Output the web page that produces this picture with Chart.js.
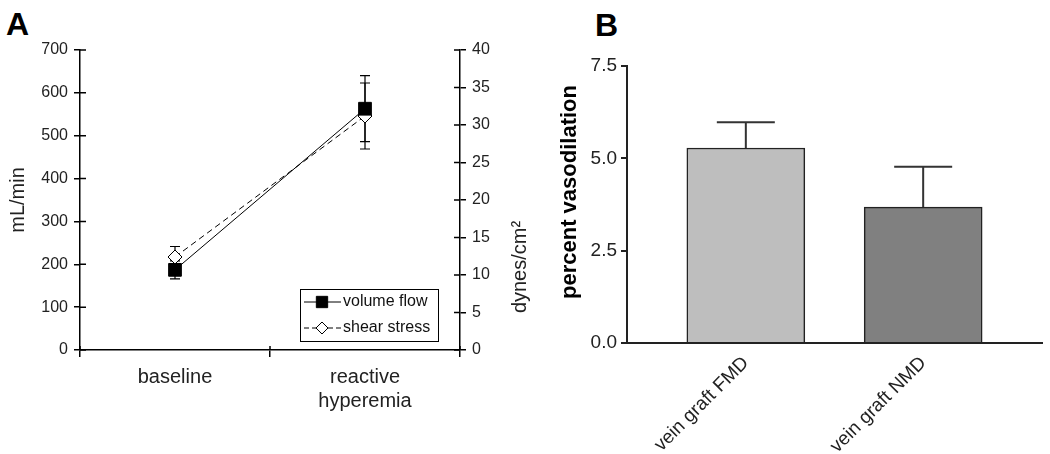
<!DOCTYPE html>
<html>
<head>
<meta charset="utf-8">
<script src="https://cdn.jsdelivr.net/npm/chart.js@4.4.0/dist/chart.umd.min.js"></script>
<style>
    html, body { margin: 0; padding: 0; background: #fff; }
    body { width: 1050px; height: 454px; position: relative; overflow: hidden; font-family: "Liberation Sans", Arial, sans-serif; }
    .panel-letter { position: absolute; font-weight: bold; font-size: 32px; line-height: 1; color: #000; }
    #wrapA { position: absolute; left: 0; top: 0; width: 545px; height: 454px; }
    #wrapB { position: absolute; left: 545px; top: 0; width: 505px; height: 454px; }
</style>
</head>
<body>
<div class="panel-letter" style="left:6px; top:8px;">A</div>
<div class="panel-letter" style="left:595px; top:9px;">B</div>
<div id="wrapA"><canvas id="chartA" width="545" height="454"></canvas></div>
<div id="wrapB"><canvas id="chartB" width="505" height="454"></canvas></div>
<script>
// ==================== DATA ====================
// Panel A - flow and shear stress
const flowCategories = ['baseline', ['reactive', 'hyperemia']];
const volumeFlow = [187, 563];          // mL/min
const volumeFlowErr = [21, 77];
const shearStress = [12.4, 31.2];       // dynes/cm2
const shearStressErr = [1.4, 4.4];
const flowAxis = { max: 700, step: 100 };
const shearAxis = { max: 40, step: 5 };

// Panel B - vasodilation
const graftCategories = ['vein graft FMD', 'vein graft NMD'];
const vasodilation = [5.28, 3.68];
const vasodilationErr = [0.70, 1.09];
const vasoAxis = { max: 7.5, step: 2.5 };
const barColors = ['#bebebe', '#808080'];

Chart.defaults.font.family = '"Liberation Sans", Arial, sans-serif';
Chart.defaults.color = '#222';
Chart.defaults.animation = false;

// ==================== HELPERS ====================
function rotatedText(ctx, text, x, y, font, color) {
    ctx.save();
    ctx.translate(x, y);
    ctx.rotate(-Math.PI / 2);
    ctx.font = font;
    ctx.fillStyle = color;
    ctx.textAlign = 'center';
    ctx.textBaseline = 'middle';
    ctx.fillText(text, 0, 0);
    ctx.restore();
}

function marker(ctx, style, radius, fill, x, y) {
    ctx.save();
    ctx.fillStyle = fill;
    ctx.strokeStyle = '#000';
    ctx.lineWidth = 1;
    Chart.helpers.drawPoint(ctx, { pointStyle: style, radius: radius, borderWidth: 1, rotation: 0 }, x, y);
    ctx.restore();
}

// error bars drawn under the markers
const flowErrorBars = {
    id: 'flowErrorBars',
    beforeDatasetsDraw(chart) {
        const ctx = chart.ctx;
        const errs = [volumeFlowErr, shearStressErr];
        ctx.save();
        ctx.strokeStyle = '#000';
        ctx.lineWidth = 1.2;
        chart.data.datasets.forEach((ds, di) => {
            const meta = chart.getDatasetMeta(di);
            const yScale = chart.scales[ds.yAxisID];
            meta.data.forEach((pt, i) => {
                const v = ds.data[i], e = errs[di][i];
                const top = yScale.getPixelForValue(v + e);
                const bot = yScale.getPixelForValue(v - e);
                ctx.beginPath();
                ctx.moveTo(pt.x, top); ctx.lineTo(pt.x, bot);
                ctx.moveTo(pt.x - 5, top); ctx.lineTo(pt.x + 5, top);
                ctx.moveTo(pt.x - 5, bot); ctx.lineTo(pt.x + 5, bot);
                ctx.stroke();
            });
        });
        ctx.restore();
    }
};

// small inward half of the crossing tick marks
const crossTicks = {
    id: 'crossTicks',
    afterDraw(chart) {
        const ctx = chart.ctx;
        const { y, y2, x } = chart.scales;
        ctx.save();
        ctx.strokeStyle = '#000';
        ctx.lineWidth = 1.5;
        ctx.beginPath();
        y.ticks.forEach(t => {
            const py = y.getPixelForValue(t.value);
            ctx.moveTo(y.right, py); ctx.lineTo(y.right + 6, py);
        });
        y2.ticks.forEach(t => {
            const py = y2.getPixelForValue(t.value);
            ctx.moveTo(y2.left, py); ctx.lineTo(y2.left - 6, py);
        });
        for (let i = 0; i <= flowCategories.length; i++) {
            const px = x.getPixelForDecimal(i / flowCategories.length);
            ctx.moveTo(px, x.top); ctx.lineTo(px, x.top - 4);
        }
        ctx.stroke();
        ctx.restore();
    }
};

const flowLegend = {
    id: 'flowLegend',
    afterDraw(chart) {
        const ctx = chart.ctx;
        const area = chart.chartArea;
        const w = 138, h = 52;
        const bx = area.right - 22 - w, by = area.bottom - 9 - h;
        ctx.save();
        ctx.strokeStyle = '#000';
        ctx.lineWidth = 1;
        ctx.strokeRect(bx + 0.5, by + 0.5, w, h);
        const rows = [
            { label: 'volume flow', dash: [], style: 'rect', radius: 8, fill: '#000' },
            { label: 'shear stress', dash: [5, 3], style: 'rectRot', radius: 6, fill: '#fff' }
        ];
        rows.forEach((r, i) => {
            const ry = by + 13 + i * 26;
            ctx.setLineDash(r.dash);
            ctx.beginPath();
            ctx.moveTo(bx + 4, ry); ctx.lineTo(bx + 41, ry);
            ctx.stroke();
            ctx.setLineDash([]);
            marker(ctx, r.style, r.radius, r.fill, bx + 22, ry);
            ctx.fillStyle = '#111';
            ctx.font = '16px "Liberation Sans", Arial, sans-serif';
            ctx.textBaseline = 'middle';
            ctx.textAlign = 'left';
            ctx.fillText(r.label, bx + 43, ry);
        });
        ctx.restore();
        rotatedText(ctx, 'dynes/cm\u00B2', 520, 267, '20px "Liberation Sans", Arial, sans-serif', '#222');
    }
};

// ==================== PANEL A ====================
new Chart(document.getElementById('chartA'), {
    type: 'line',
    data: {
        labels: flowCategories,
        datasets: [{
            label: 'volume flow',
            data: volumeFlow,
            yAxisID: 'y',
            borderColor: '#000',
            borderWidth: 1,
            pointStyle: 'rect',
            pointRadius: 9,
            pointBackgroundColor: '#000',
            pointBorderColor: '#000',
            pointBorderWidth: 1
        }, {
            label: 'shear stress',
            data: shearStress,
            yAxisID: 'y2',
            borderColor: '#000',
            borderWidth: 1,
            borderDash: [6, 4],
            pointStyle: 'rectRot',
            pointRadius: 7,
            pointBackgroundColor: '#fff',
            pointBorderColor: '#000',
            pointBorderWidth: 1
        }]
    },
    options: {
        responsive: false,
        layout: { padding: { top: 50, left: 0, right: 0, bottom: 0 } },
        plugins: { legend: { display: false }, tooltip: { enabled: false } },
        scales: {
            x: {
                offset: true,
                afterFit: s => { s.height = 104; },
                grid: { offset: true, drawOnChartArea: false, color: '#000', lineWidth: 1.5, tickLength: 7 },
                border: { color: '#000', width: 1.5 },
                ticks: { font: { size: 20 }, color: '#222', padding: 8, maxRotation: 0 }
            },
            y: {
                position: 'left',
                min: 0, max: flowAxis.max,
                afterFit: s => { s.width = 80; },
                grid: { drawOnChartArea: false, color: '#000', lineWidth: 1.5, tickLength: 6 },
                border: { color: '#000', width: 1.5 },
                ticks: { stepSize: flowAxis.step, font: { size: 16 }, color: '#222', padding: 6 },
                title: { display: true, text: 'mL/min', font: { size: 20 }, color: '#222', padding: { top: 6, bottom: 0 } }
            },
            y2: {
                position: 'right',
                min: 0, max: shearAxis.max,
                afterFit: s => { s.width = 85; },
                grid: { drawOnChartArea: false, color: '#000', lineWidth: 1.5, tickLength: 6 },
                border: { color: '#000', width: 1.5 },
                ticks: { stepSize: shearAxis.step, font: { size: 16 }, color: '#222', padding: 6 }
            }
        }
    },
    plugins: [flowErrorBars, crossTicks, flowLegend]
});

// ==================== PANEL B ====================
const vasoErrorBars = {
    id: 'vasoErrorBars',
    beforeDatasetsDraw(chart) {
        const ctx = chart.ctx;
        const meta = chart.getDatasetMeta(0);
        const yScale = chart.scales.y;
        ctx.save();
        ctx.strokeStyle = '#333';
        ctx.lineWidth = 2;
        meta.data.forEach((bar, i) => {
            const top = yScale.getPixelForValue(vasodilation[i] + vasodilationErr[i]);
            ctx.beginPath();
            ctx.moveTo(bar.x, bar.y); ctx.lineTo(bar.x, top);
            ctx.moveTo(bar.x - 29, top); ctx.lineTo(bar.x + 29, top);
            ctx.stroke();
        });
        ctx.restore();
    },
    afterDraw(chart) {
        rotatedText(chart.ctx, 'percent vasodilation', 25, 192, 'bold 22px "Liberation Sans", Arial, sans-serif', '#000');
    }
};

new Chart(document.getElementById('chartB'), {
    type: 'bar',
    data: {
        datasets: [{
            data: vasodilation.map((v, i) => ({ x: i + 1, y: v })),
            backgroundColor: barColors,
            borderColor: '#222',
            borderWidth: 1.5,
            borderSkipped: 'bottom',
            barThickness: 118
        }]
    },
    options: {
        responsive: false,
        layout: { padding: { top: 66, left: 0, right: 8, bottom: 0 } },
        plugins: { legend: { display: false }, tooltip: { enabled: false } },
        scales: {
            x: {
                type: 'linear',
                offset: false,
                min: 0.33, max: 2.67,
                afterFit: s => { s.height = 111; },
                afterBuildTicks: s => { s.ticks = graftCategories.map((_, i) => ({ value: i + 1 })); },
                grid: { display: false, offset: false },
                border: { color: '#222', width: 2 },
                ticks: {
                    callback: v => graftCategories[v - 1] || '',
                    font: { size: 19 }, color: '#222',
                    minRotation: 45, maxRotation: 45, padding: 1, autoSkip: false
                }
            },
            y: {
                min: 0, max: vasoAxis.max,
                afterFit: s => { s.width = 82; },
                grid: { drawOnChartArea: false, color: '#222', lineWidth: 2, tickLength: 6 },
                border: { color: '#222', width: 2 },
                ticks: { stepSize: vasoAxis.step, callback: v => v.toFixed(1), font: { size: 19 }, color: '#222', padding: 4 }
            }
        }
    },
    plugins: [vasoErrorBars]
});
</script>
</body>
</html>
